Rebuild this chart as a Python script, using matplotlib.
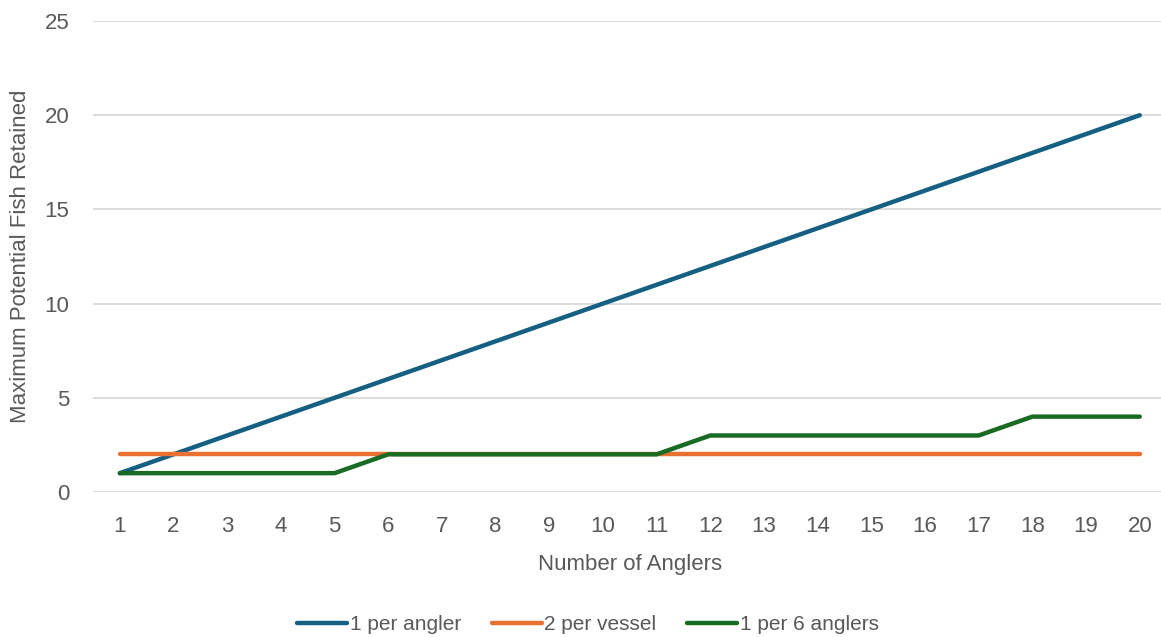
import matplotlib.pyplot as plt

# anglers on the boat and the bag each rule allows
anglers = list(range(1, 21))
per_angler = [1, 2, 3, 4, 5, 6, 7, 8, 9, 10, 11, 12, 13, 14, 15, 16, 17, 18, 19, 20]
per_vessel = [2] * 20
per_six = [1, 1, 1, 1, 1, 2, 2, 2, 2, 2, 2, 3, 3, 3, 3, 3, 3, 4, 4, 4]

series_names = ["1 per angler", "2 per vessel", "1 per 6 anglers"]
series_colors = ["#156082", "#E97132", "#196B24"]

plt.rcParams['font.family'] = ['Liberation Sans', 'DejaVu Sans']
text_col = "#595959"

fig = plt.figure(figsize=(11.61, 6.37), dpi=100)
ax = fig.add_axes([93 / 1161, 145 / 637, 1073.6 / 1161, 471 / 637])

for vals, name, col in zip([per_angler, per_vessel, per_six], series_names, series_colors):
    ax.plot(anglers, vals, color=col, lw=3.2, label=name,
            solid_capstyle='round', solid_joinstyle='round')

ax.set_xlim(0.5, 20.5)
ax.set_ylim(0, 25)
ax.set_xticks(anglers)
ax.set_yticks(range(0, 26, 5))
ax.yaxis.grid(True, color="#D9D9D9", lw=1.3)
ax.set_axisbelow(True)
for s in ax.spines.values():
    s.set_visible(False)
ax.tick_params(length=0, labelsize=16, colors=text_col)
ax.tick_params(axis='x', pad=17)
ax.tick_params(axis='y', pad=17)

ax.set_xlabel("Number of Anglers", fontsize=16, color=text_col)
ax.set_ylabel("Maximum Potential Fish Retained", fontsize=16, color=text_col)
ax.yaxis.set_label_coords(-(93 - 31) / 1073.6, 0.5)
ax.xaxis.set_label_coords((630 - 93) / 1073.6, -(554 - 492) / 471)

fig.legend(loc='center', bbox_to_anchor=(588 / 1161, 1 - 625 / 637), ncol=3,
           frameon=False, fontsize=15, labelcolor=text_col, handlelength=2.4,
           handletextpad=0.1, columnspacing=1.5)

fig.savefig("out.png", dpi=100)
